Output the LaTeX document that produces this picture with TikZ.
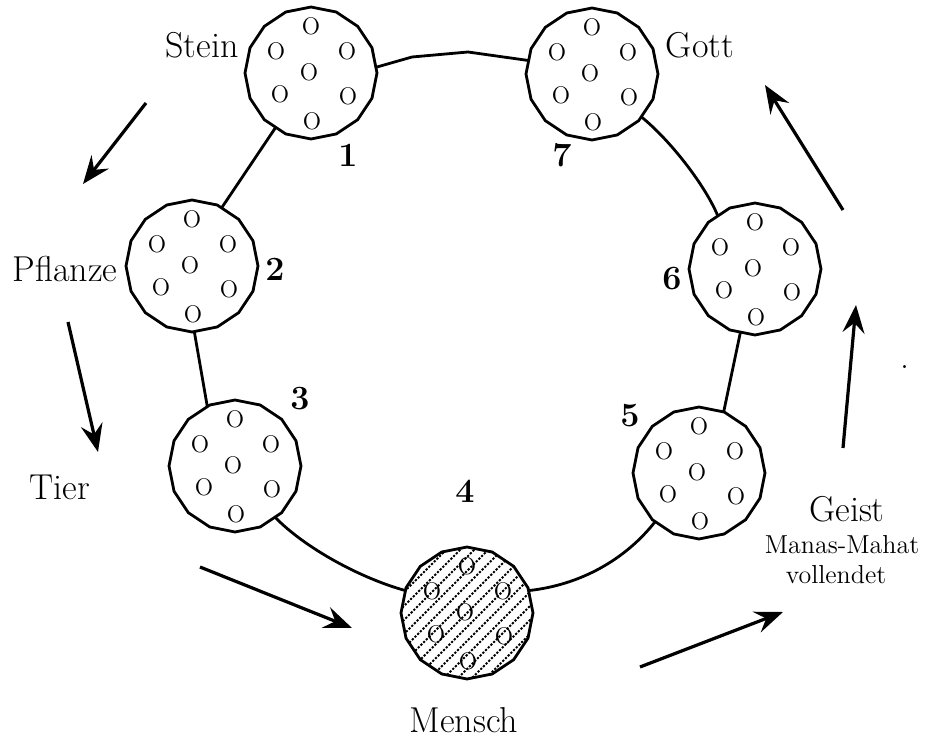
\documentclass[tikz,border=0pt]{standalone}
\usetikzlibrary{arrows.meta,shapes.geometric,calc}
\begin{document}
\begin{tikzpicture}[x=0.5pt,y=-0.5pt,
  ball/.style={draw,regular polygon,regular polygon sides=16,regular polygon rotate=11.25,
    minimum size=66pt,inner sep=0pt,outer sep=0pt,line width=1.4pt,fill=white},
  seed/.style={inner sep=0pt,font=\fontsize{12}{14}\selectfont},
  lab/.style={anchor=base,inner sep=0pt,font=\fontsize{18}{21}\selectfont},
  num/.style={anchor=base,inner sep=0pt,font=\fontsize{17}{20}\selectfont\bfseries},
  small/.style={anchor=base,inner sep=0pt,font=\fontsize{13}{15}\selectfont},
  ring/.style={line width=1.4pt},
  flow/.style={line width=1.6pt,-{Stealth[length=14pt,width=11pt,inset=5pt]}},
  hatch/.style={line width=0.9pt,dash pattern=on 1.1pt off 0.8pt}]

  \useasboundingbox (0,0) rectangle (927,737);

  % The seven globes
  \node[ball] (c1) at (311,73) {};
  \node[ball] (c2) at (192,266) {};
  \node[ball] (c3) at (235,466) {};
  \node[ball,path picture={
      \foreach \k in {-7,...,7}
        \draw[hatch] ([xshift=\k*7pt]path picture bounding box.center) ++(-70,70) -- ++(140,-140);
    }] (c4) at (467,613) {};
  \node[ball] (c5) at (699,473) {};
  \node[ball] (c6) at (755,269) {};
  \node[ball] (c7) at (592,74) {};

  % Seeds inside each globe
  \foreach \c in {c1,c2,c3,c4,c5,c6,c7}
    \foreach \dx/\dy [count=\i] in {0/-47,-35/-22,36/-22,-2/-1,-31/21,37/23,1/48}
      \node[seed] (\c o\i) at ($(\c)+(\dx,\dy)$) {O};

  % The ring
  \draw[ring] (c1.5) -- (412,57) -- (468,52) -- (c7.168);
  \draw[ring] (c1.-123) -- (c2.63);
  \draw[ring] (c2.-88) -- (c3.115);
  \draw[ring] (c3.-52) .. controls (305,548) and (360,578) .. (c4.160);
  \draw[ring] (c4.20) .. controls (580,585) and (625,560) .. (c5.-132);
  \draw[ring] (c5.68) -- (c6.-103);
  \draw[ring] (c6.125) .. controls (705,185) and (670,140) .. (c7.-41);

  % Numbers
  \node[num] (n1) at (348,167) {1};
  \node[num] (n2) at (275,281) {2};
  \node[num] (n3) at (300,410) {3};
  \node[num] (n4) at (465,503) {4};
  \node[num] (n5) at (630,427) {5};
  \node[num] (n6) at (672,290) {6};
  \node[num] (n7) at (562,167) {7};

  % Kingdoms
  \node[lab] (stein) at (202,58) {Stein};
  \node[lab] (gott) at (700,58) {Gott};
  \node[lab] (pflanze) at (65,282) {Pflanze};
  \node[lab] (tier) at (60,500) {Tier};
  \node[lab] (mensch) at (464,732) {Mensch};
  \node[lab] (geist) at (847,522) {Geist};
  \node[small] (manas) at (842,553) {Manas-Mahat};
  \node[small] (vollendet) at (836,583) {vollendet};
  \node[lab,anchor=center] (dot) at (905,367) {.};

  % Direction of the path
  \coordinate (a1s) at (146,103); \coordinate (a1e) at (83,184);
  \coordinate (a2s) at (68,322);  \coordinate (a2e) at (98,452);
  \coordinate (a3s) at (200,567); \coordinate (a3e) at (352,628);
  \coordinate (a4s) at (640,667); \coordinate (a4e) at (783,612);
  \coordinate (a5s) at (843,448); \coordinate (a5e) at (856,305);
  \coordinate (a6s) at (843,210); \coordinate (a6e) at (765,85);
  \foreach \i in {1,...,6}
    \draw[flow] (a\i s) -- (a\i e);
\end{tikzpicture}
\end{document}
